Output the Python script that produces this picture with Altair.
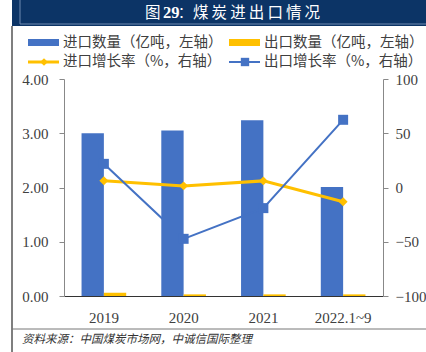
import altair as alt
import pandas as pd

years = ["2019", "2020", "2021", "2022.1~9"]
import_vol = [3.00, 3.05, 3.24, 2.01]
export_vol = [0.06, 0.03, 0.03, 0.03]
import_growth = [6.3, 1.5, 6.1, -13.2]
export_growth = [21.8, -47.3, -19.0, 62.4]

series_bar = ["进口数量", "出口数量"]
series_line = ["进口增长率", "出口增长率"]

bars_df = pd.DataFrame({
    "year": years * 2,
    "series": [series_bar[0]] * 4 + [series_bar[1]] * 4,
    "value": import_vol + export_vol,
})
lines_df = pd.DataFrame({
    "year": years * 2,
    "series": [series_line[0]] * 4 + [series_line[1]] * 4,
    "growth": import_growth + export_growth,
})

BLUE = "#4472C4"
YELLOW = "#FFC000"
CJK = "Noto Sans CJK SC"
SERIF = "Liberation Serif"

x_enc = alt.X(
    "year:N", sort=years,
    scale=alt.Scale(paddingInner=0.44, paddingOuter=0.22),
    axis=alt.Axis(title=None, labelAngle=0, ticks=False, domainColor="#333333",
                  labelFont=SERIF, labelFontSize=15, labelColor="#404040",
                  labelPadding=14),
)

bars = alt.Chart(bars_df).mark_bar().encode(
    x=x_enc,
    xOffset=alt.XOffset("series:N", sort=series_bar,
                        scale=alt.Scale(paddingInner=0, paddingOuter=0)),
    y=alt.Y("value:Q", scale=alt.Scale(domain=[0, 4], nice=False),
            axis=alt.Axis(title=None, values=[0, 1, 2, 3, 4], format=".2f", grid=False,
                          tickSize=5, tickColor="#888888", domainColor="#888888",
                          labelFont=SERIF, labelFontSize=15, labelColor="#404040",
                          labelPadding=11, orient="left")),
    color=alt.Color("series:N", scale=alt.Scale(domain=series_bar, range=[BLUE, YELLOW]),
                    legend=None),
)

y_line = alt.Y("growth:Q", scale=alt.Scale(domain=[-100, 100], nice=False),
               axis=alt.Axis(title=None, values=[-100, -50, 0, 50, 100], format="d", grid=False,
                             tickSize=5, tickColor="#888888", domainColor="#888888",
                             labelFont=SERIF, labelFontSize=15, labelColor="#404040",
                             labelPadding=7, orient="right"))

base_line = alt.Chart(lines_df)
imp = base_line.transform_filter(alt.datum.series == series_line[0])
exp = base_line.transform_filter(alt.datum.series == series_line[1])

imp_line = imp.mark_line(color=YELLOW, strokeWidth=3).encode(x=alt.X("year:N", sort=years), y=y_line)
imp_pts = imp.mark_point(shape="diamond", filled=True, color=YELLOW, size=80, opacity=1).encode(
    x=alt.X("year:N", sort=years), y=y_line)
exp_line = exp.mark_line(color=BLUE, strokeWidth=2).encode(x=alt.X("year:N", sort=years), y=y_line)
exp_pts = exp.mark_point(shape="square", filled=True, color=BLUE, size=100, opacity=1).encode(
    x=alt.X("year:N", sort=years), y=y_line)

lines = alt.layer(imp_line, exp_line, imp_pts, exp_pts)

one = alt.Data(values=[{"a": 1}])
dec = alt.Chart(one)

title_rect = dec.mark_rect(color="#0c3466").encode(
    x=alt.value(-52), x2=alt.value(362), y=alt.value(-79), y2=alt.value(-53))
title_inner = dec.mark_rect(filled=False, stroke="#6f8ab0", strokeWidth=1).encode(
    x=alt.value(-44), x2=alt.value(372), y=alt.value(-82), y2=alt.value(-55))
title_a = dec.mark_text(text="图", color="white", font=CJK, fontSize=15.5,
                        align="left", baseline="middle").encode(x=alt.value(81), y=alt.value(-66))
title_b = dec.mark_text(text="29", color="white", font=SERIF, fontWeight="bold", fontSize=16.5,
                        align="left", baseline="middle").encode(x=alt.value(99), y=alt.value(-66))
title_colon = dec.mark_text(text="：", color="white", font=CJK, fontSize=14,
                            align="left", baseline="middle").encode(x=alt.value(114), y=alt.value(-66))
title_c = dec.mark_text(text="煤\u2009炭\u2009进\u2009出\u2009口\u2009情\u2009况", color="white",
                        font=CJK, fontSize=15.5, align="left", baseline="middle").encode(
    x=alt.value(129), y=alt.value(-66))
left_border = dec.mark_rule(color="#555555", strokeWidth=1.5).encode(
    x=alt.value(-52), y=alt.value(-53), y2=alt.value(273))
bottom_sep = dec.mark_rule(color="#777777", strokeWidth=1).encode(
    x=alt.value(-52), x2=alt.value(362), y=alt.value(250))
source_text = dec.mark_text(text="资料来源：中国煤炭市场网，中诚信国际整理", color="#333333",
                            font=CJK, fontSize=11.5, fontStyle="italic", align="left",
                            baseline="middle").encode(x=alt.value(-42), y=alt.value(261))

# legend
leg_text_props = dict(font=CJK, fontSize=14.5, color="#404040", align="left", baseline="middle")
leg1_sym = dec.mark_rect(color=BLUE).encode(
    x=alt.value(-36), x2=alt.value(-5), y=alt.value(-40), y2=alt.value(-33))
leg1_txt = dec.mark_text(text="进口数量（亿吨，左轴）", **leg_text_props).encode(
    x=alt.value(-1), y=alt.value(-36))
leg2_sym = dec.mark_rect(color=YELLOW).encode(
    x=alt.value(165), x2=alt.value(196), y=alt.value(-40), y2=alt.value(-33))
leg2_txt = dec.mark_text(text="出口数量（亿吨，左轴）", **leg_text_props).encode(
    x=alt.value(200), y=alt.value(-36))
leg3_line = dec.mark_rule(color=YELLOW, strokeWidth=3).encode(
    x=alt.value(-36), x2=alt.value(-5), y=alt.value(-17))
leg3_pt = dec.mark_point(shape="diamond", filled=True, color=YELLOW, size=60, opacity=1).encode(
    x=alt.value(-20), y=alt.value(-17))
leg3_txt = dec.mark_text(text="进口增长率（%，右轴）", **leg_text_props).encode(
    x=alt.value(-1), y=alt.value(-17))
leg4_line = dec.mark_rule(color=BLUE, strokeWidth=2).encode(
    x=alt.value(165), x2=alt.value(196), y=alt.value(-17))
leg4_pt = dec.mark_point(shape="square", filled=True, color=BLUE, size=70, opacity=1).encode(
    x=alt.value(181), y=alt.value(-17))
leg4_txt = dec.mark_text(text="出口增长率（%，右轴）", **leg_text_props).encode(
    x=alt.value(200), y=alt.value(-17))

chart = alt.layer(
    bars, lines,
    title_rect, title_inner, title_a, title_b, title_colon, title_c, left_border, bottom_sep,
    source_text,
    leg1_sym, leg1_txt, leg2_sym, leg2_txt, leg3_line, leg3_pt, leg3_txt,
    leg4_line, leg4_pt, leg4_txt,
).resolve_scale(y="independent").properties(
    width=319, height=217,
    autosize=alt.AutoSizeParams(type="none"),
    padding={"left": 64, "top": 79, "right": 43, "bottom": 56},
    background="white",
).configure_view(stroke=None)

chart.save("out.html", embed_options={"renderer": "svg", "actions": False})
